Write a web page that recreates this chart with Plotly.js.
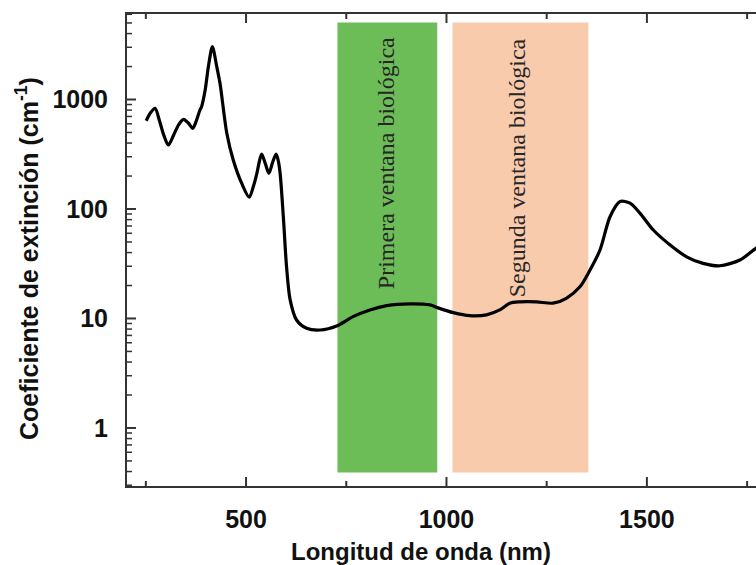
<!DOCTYPE html>
<html>
<head>
<meta charset="utf-8">
<script src="https://cdn.plot.ly/plotly-3.0.1.min.js"></script>
<style>
  html, body { margin: 0; padding: 0; overflow: hidden; background: #ffffff; }
  #chart { width: 790px; height: 565px; }
</style>
</head>
<body>
<div id="chart"></div>
<script>
// Extinction spectrum (cm^-1) versus wavelength (nm)
const wavelength = [251, 262, 273, 284, 295, 306, 320, 332, 344, 356, 367, 376, 385, 389, 398, 406, 416, 427, 435, 452, 468, 489, 508, 518, 527, 533, 539, 548, 557, 566, 575, 580, 585, 593, 601, 610, 626, 651, 685, 726, 767, 809, 851, 909, 959, 979, 1017, 1058, 1100, 1133, 1158, 1183, 1225, 1266, 1299, 1333, 1358, 1383, 1408, 1433, 1458, 1483, 1516, 1558, 1599, 1640, 1682, 1732, 1772, 1810];
const extinction = [640, 760, 831, 640, 470, 384, 480, 590, 659, 610, 546, 640, 802, 860, 1222, 1990, 3035, 1990, 1406, 491, 280, 172, 128, 160, 212, 270, 318, 260, 212, 265, 318, 280, 212, 85, 29.7, 14.8, 9.69, 8.14, 7.85, 8.54, 10.4, 11.97, 13.1, 13.6, 13.3, 12.5, 11.3, 10.6, 10.8, 11.97, 13.8, 14.2, 14.2, 13.8, 15.3, 19.5, 27.7, 42.2, 85, 117, 113, 91.3, 64.3, 46.9, 36.6, 31.9, 30.3, 34.2, 43.8, 52];

// Biological transparency windows (nm)
const windowNames = ['Primera ventana biológica', 'Segunda ventana biológica'];
const windowStart = [728, 1015];
const windowEnd = [977, 1354];
const windowColors = ['#6cbd58', '#f9cbad'];
const windowLabelX = [848, 1176];

// Tick positions
const xMajorTicks = [500, 1000, 1500];
const xMinorTicks = [250, 750, 1250, 1750];
const yMajorTicks = [1, 10, 100, 1000];
const yMinorDigits = [2, 3, 4, 5, 6, 7, 8, 9];

const W = 790, H = 565;
const M = { l: 127, r: 0, t: 14, b: 79 };
const plotW = W - M.l - M.r, plotH = H - M.t - M.b;
const yRange = [-0.530, 3.781];
const axisColor = '#333333';

const trace = {
  x: wavelength,
  y: extinction,
  type: 'scatter',
  mode: 'lines',
  line: { color: '#000000', width: 3.2, shape: 'spline', smoothing: 0.8 },
  hoverinfo: 'skip',
  showlegend: false
};

const shapes = windowStart.map((s, i) => ({
  type: 'rect', xref: 'x', yref: 'paper',
  x0: s, x1: windowEnd[i], y0: 0.0286, y1: 0.982,
  fillcolor: windowColors[i], line: { width: 0 }, layer: 'below'
}));

// Inward tick marks on the bottom, top and left frame edges
function xTick(v, len) {
  const f = len / plotH;
  return [
    { type: 'line', xref: 'x', yref: 'paper', x0: v, x1: v, y0: 0, y1: f, line: { color: axisColor, width: 2 } },
    { type: 'line', xref: 'x', yref: 'paper', x0: v, x1: v, y0: 1, y1: 1 - f, line: { color: axisColor, width: 2 } }
  ];
}
function yTick(v, len, w) {
  return { type: 'line', xref: 'paper', yref: 'y', x0: 0, x1: len / plotW, y0: v, y1: v, line: { color: axisColor, width: w } };
}
xMajorTicks.forEach(v => shapes.push(...xTick(v, 9)));
xMinorTicks.forEach(v => shapes.push(...xTick(v, 5)));
yMajorTicks.forEach(v => shapes.push(yTick(v, 9, 2)));
for (let k = Math.floor(yRange[0]); k <= Math.ceil(yRange[1]); k++) {
  yMinorDigits.forEach(d => {
    const v = d * Math.pow(10, k);
    const lv = Math.log10(v);
    if (lv > yRange[0] && lv < yRange[1]) shapes.push(yTick(v, 5, 1.5));
  });
}

const annotations = windowNames.map((name, i) => ({
  text: name, xref: 'x', yref: 'paper',
  x: windowLabelX[i], y: 0.683 - i * 0.01,
  xanchor: 'center', yanchor: 'middle',
  textangle: -90, showarrow: false,
  font: { family: 'Liberation Serif, Times New Roman, serif', size: 24, color: '#262626' }
}));

annotations.push({
  text: 'Longitud de onda (nm)', xref: 'paper', yref: 'paper',
  x: 0.4434, y: -0.138, xanchor: 'center', yanchor: 'middle', showarrow: false,
  font: { family: 'Liberation Sans, Arial, sans-serif', size: 24, color: '#111111', weight: 'bold' }
});
annotations.push({
  text: 'Coeficiente de extinción (cm<sup>-1</sup>)', xref: 'paper', yref: 'paper',
  x: -0.1508, y: 0.481, xanchor: 'center', yanchor: 'middle', showarrow: false,
  textangle: -90,
  font: { family: 'Liberation Sans, Arial, sans-serif', size: 25, color: '#111111', weight: 'bold' }
});

const axisFont = { family: 'Liberation Sans, Arial, sans-serif', size: 25, color: '#111111', weight: 'bold' };

const layout = {
  width: W, height: H,
  margin: M,
  paper_bgcolor: '#ffffff', plot_bgcolor: '#ffffff',
  showlegend: false,
  xaxis: {
    range: [203, 1857],
    tickmode: 'array', tickvals: xMajorTicks, ticktext: xMajorTicks.map(String),
    ticks: '', showline: true, linecolor: axisColor, linewidth: 2, mirror: true,
    showgrid: false, zeroline: false,
    tickfont: axisFont, ticklabelstandoff: 10
  },
  yaxis: {
    type: 'log',
    range: yRange,
    tickmode: 'array', tickvals: yMajorTicks, ticktext: yMajorTicks.map(String),
    ticks: '', showline: true, linecolor: axisColor, linewidth: 2, mirror: true,
    showgrid: false, zeroline: false,
    tickfont: axisFont, ticklabelstandoff: 12
  },
  shapes: shapes,
  annotations: annotations
};

Plotly.newPlot('chart', [trace], layout, { displayModeBar: false, staticPlot: true });
</script>
</body>
</html>
